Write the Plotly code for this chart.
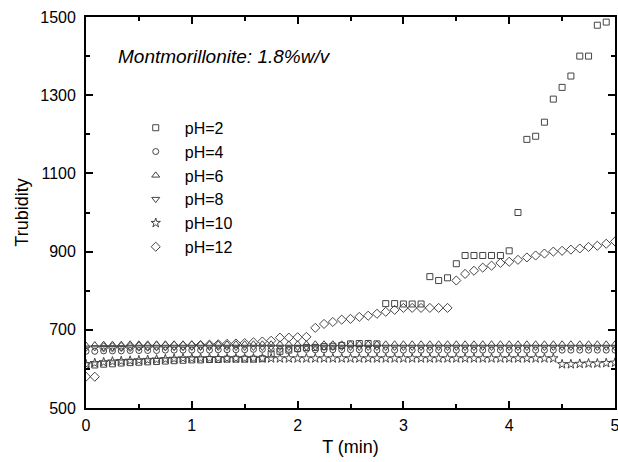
import plotly.graph_objects as go

T = [0.0, 0.083, 0.167, 0.25, 0.333, 0.417, 0.5, 0.583, 0.667, 0.75, 0.833, 0.917,
     1.0, 1.083, 1.167, 1.25, 1.333, 1.417, 1.5, 1.583, 1.667, 1.75, 1.833, 1.917,
     2.0, 2.083, 2.167, 2.25, 2.333, 2.417, 2.5, 2.583, 2.667, 2.75, 2.833, 2.917,
     3.0, 3.083, 3.167, 3.25, 3.333, 3.417, 3.5, 3.583, 3.667, 3.75, 3.833, 3.917,
     4.0, 4.083, 4.167, 4.25, 4.333, 4.417, 4.5, 4.583, 4.667, 4.75, 4.833, 4.917, 5.0]

pH2 = [608, 610, 612, 613, 615, 616, 617, 618, 619, 620, 621, 622,
       623, 623, 624, 624, 625, 625, 625, 625, 626, 638, 645, 648,
       652, 655, 655, 657, 658, 660, 664, 665, 665, 664, 767, 767,
       766, 766, 766, 836, 826, 833, 869, 890, 890, 890, 890, 890,
       902, 1000, 1187, 1195, 1231, 1290, 1320, 1349, 1400, 1400, 1479, 1487, None]

pH4 = [645, 645, 646, 646, 646, 647, 647, 647, 647, 648, 648, 648,
       648, 648, 648, 649, 649, 649, 649, 650, 650, 650, 650, 650,
       650, 650, 649, 649, 649, 649, 649, 649, 648, 648, 648, 648,
       648, 648, 648, 648, 648, 648, 648, 648, 648, 648, 648, 648,
       648, 648, 648, 648, 648, 648, 648, 648, 648, 648, 648, 648, 648]

pH6 = [660, 661, 662, 662, 662, 663, 663, 663, 663, 663, 663, 663,
       663, 663, 663, 663, 663, 663, 663, 663, 663, 663, 663, 663,
       663, 663, 663, 663, 663, 663, 663, 663, 663, 663, 663, 663,
       663, 663, 663, 663, 663, 663, 663, 663, 663, 663, 663, 663,
       663, 663, 663, 663, 663, 663, 663, 663, 663, 663, 663, 663, 663]

pH8 = [654, 655, 655, 655, 655, 656, 656, 656, 656, 656, 656, 656,
       656, 656, 656, 656, 656, 656, 656, 656, 656, 656, 656, 656,
       656, 656, 656, 656, 656, 656, 656, 656, 656, 656, 656, 656,
       656, 656, 656, 656, 656, 656, 656, 656, 656, 656, 656, 656,
       656, 656, 656, 656, 656, 656, 656, 656, 656, 656, 656, 656, 656]

pH10 = [612, 615, 617, 619, 620, 621, 622, 623, 624, 625, 626, 627,
        627, 627, 627, 627, 627, 627, 627, 627, 627, 627, 627, 627,
        627, 627, 627, 627, 627, 627, 627, 627, 627, 627, 627, 627,
        627, 627, 627, 627, 627, 627, 627, 627, 627, 627, 627, 627,
        627, 627, 627, 627, 627, 627, 612, 612, 613, 614, 614, 615, 616]

pH12 = [580, 580, 655, 655, 656, 656, 657, 657, 658, 658, 659, 659,
        660, 661, 662, 663, 664, 665, 666, 668, 670, 672, 680, 680,
        681, 682, 705, 715, 720, 726, 728, 733, 736, 741, 746, 751,
        756, 756, 756, 756, 756, 756, 826, 843, 851, 859, 864, 871,
        874, 879, 885, 890, 895, 900, 902, 905, 908, 912, 915, 920, 926]

names = ["pH=2", "pH=4", "pH=6", "pH=8", "pH=10", "pH=12"]
series = [pH2, pH4, pH6, pH8, pH10, pH12]
symbols = ["square-open", "circle-open", "triangle-up-open", "triangle-down-open",
           "star-open", "diamond-open"]
sizes = [6, 6, 7, 7, 7, 7]

FONT = "Liberation Sans, Arial, sans-serif"
MC = "#444444"

fig = go.Figure()
for nm, ys, sym, sz in zip(names, series, symbols, sizes):
    fig.add_trace(go.Scatter(
        x=T, y=ys, mode="markers", name=nm,
        marker=dict(symbol=sym, size=sz, color=MC, line=dict(width=1, color=MC)),
        cliponaxis=True,
    ))

axis_common = dict(
    showline=True, linecolor="black", linewidth=1.8, mirror="ticks",
    ticks="inside", ticklen=7, tickwidth=1.5, tickcolor="black",
    showgrid=False, zeroline=False, ticklabeloverflow="allow",
    tickfont=dict(family=FONT, size=16, color="black"),
)

fig.update_xaxes(
    range=[0, 5], tick0=0, dtick=1,
    minor=dict(ticks="inside", ticklen=4, tickwidth=1.5, tickcolor="black", dtick=0.5, tick0=0),
    title=dict(text="T (min)", font=dict(family=FONT, size=18, color="black"), standoff=7),
    ticklabelstandoff=2,
    **axis_common,
)
fig.update_yaxes(
    range=[500, 1500], tick0=500, dtick=200,
    minor=dict(ticks="inside", ticklen=4, tickwidth=1.5, tickcolor="black", dtick=100, tick0=500),
    title=dict(text="Trubidity", font=dict(family=FONT, size=18, color="black"), standoff=7),
    ticklabelstandoff=5,
    **axis_common,
)

fig.add_annotation(
    x=0.056, y=0.898, xref="paper", yref="paper", xanchor="left", yanchor="middle",
    text="<i>Montmorillonite: 1.8%w/v</i>", showarrow=False,
    font=dict(family=FONT, size=19, color="black"),
)

fig.update_layout(
    width=618, height=462,
    margin=dict(l=86, r=3, t=17, b=54, autoexpand=False),
    paper_bgcolor="white", plot_bgcolor="white",
    showlegend=True,
    legend=dict(
        x=0.077, y=0.76, xanchor="left", yanchor="top",
        bgcolor="rgba(0,0,0,0)", borderwidth=0,
        font=dict(family=FONT, size=16, color="black"),
        itemwidth=48, tracegroupgap=0,
    ),
)

fig.write_html(
    "out.html",
    config={"displayModeBar": False},
    post_script="document.body.style.margin='0';document.body.style.overflow='hidden';",
)
